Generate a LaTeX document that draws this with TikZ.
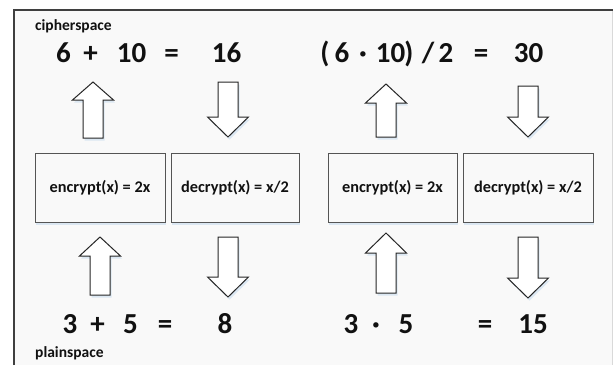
\documentclass[tikz,border=0pt]{standalone}
\usepackage{fontspec}
\setmainfont{Carlito}
\definecolor{txt}{HTML}{111111}
\definecolor{frame}{HTML}{3F3F3F}
\definecolor{bg}{HTML}{F9F9F9}
\definecolor{boxline}{HTML}{555555}
\definecolor{shadowc}{HTML}{CFE0F0}
\tikzset{
  big/.style={font=\fontsize{29}{29}\selectfont\bfseries, anchor=base, inner sep=0pt, text=txt},
  lbl/.style={font=\fontsize{15.5}{16}\selectfont\bfseries, anchor=base west, inner sep=0pt, text=txt},
  fbox/.style={draw=boxline, line width=1pt, fill=bg, inner sep=0pt, minimum height=69pt,
     font=\fontsize{16.3}{16}\selectfont\bfseries, text=txt},
  blockarrow/.style={draw=black!85, fill=white, line width=1pt, line join=miter},
  arrshadow/.style={fill=shadowc, opacity=0.7},
}
\newcommand\uparr[4]{%
  \fill[arrshadow,shift={(1.5,2.5)}] (#1,#2) -- (#1+20.5,#3) -- (#1+10,#3) -- (#1+10,#4) -- (#1-10,#4) -- (#1-10,#3) -- (#1-20.5,#3) -- cycle;
  \draw[blockarrow] (#1,#2) -- (#1+20.5,#3) -- (#1+10,#3) -- (#1+10,#4) -- (#1-10,#4) -- (#1-10,#3) -- (#1-20.5,#3) -- cycle;}
\newcommand\downarr[4]{%
  \fill[arrshadow,shift={(1.5,2.5)}] (#1-10,#2) -- (#1+10,#2) -- (#1+10,#3) -- (#1+20.5,#3) -- (#1,#4) -- (#1-20.5,#3) -- (#1-10,#3) -- cycle;
  \draw[blockarrow] (#1-10,#2) -- (#1+10,#2) -- (#1+10,#3) -- (#1+20.5,#3) -- (#1,#4) -- (#1-20.5,#3) -- (#1-10,#3) -- cycle;}
\begin{document}
\begin{tikzpicture}[x=1pt,y=-1pt]
\useasboundingbox (0,0) rectangle (613,365);
\fill[white] (0,0) rectangle (613,365);
\fill[bg] (14,10) rectangle (612,365);
\draw[black!15, line width=1pt] (612,10) -- (612,365);
\draw[frame, line width=1.5pt] (14,365) -- (14,10) -- (613,10);

% labels
\node[lbl] (cs) at (35,30) {cipherspace};
\node[lbl] (ps) at (35,357) {plainspace};

% boxes (with soft shadow)
\foreach \cx/\w in {100/130, 235/128, 392.5/129, 528/130}{
  \fill[arrshadow] (\cx-\w/2+1,187.5-34.5+3) rectangle (\cx+\w/2+1,187.5+34.5+2.5);
}
\node[fbox, minimum width=130pt] (enc1) at (100,187.5) {encrypt(x) = 2x};
\node[fbox, minimum width=128pt] (dec1) at (235,187.5) {decrypt(x) = x/2};
\node[fbox, minimum width=129pt] (enc2) at (392.5,187.5) {encrypt(x) = 2x};
\node[fbox, minimum width=130pt] (dec2) at (528,187.5) {decrypt(x) = x/2};

% block arrows
\uparr{93}{82}{100}{138}
\downarr{228}{82}{117}{137}
\uparr{386}{84}{103}{137}
\downarr{528}{86}{117}{137}
\uparr{100}{237}{256}{295}
\downarr{228}{237}{277}{297}
\uparr{386}{233}{253}{293}
\downarr{528}{237}{278}{298}

% top-left equation
\node[big] (a1) at (63.5,62) {6};
\node[big] (a2) at (90.5,62) {+};
\node[big] (a3) at (131.5,62) {10};
\node[big] (a4) at (171.5,62) {=};
\node[big] (a5) at (226.5,62) {16};
% top-right equation
\node[big] (b1) at (325,62) {(};
\node[big] (b2) at (342,62) {6};
\node[big] (b3) at (363,62) {·};
\node[big] (b4) at (390.5,62) {10};
\node[big] (b5) at (409,62) {)};
\node[big] (b6) at (428,62) {/};
\node[big] (b7) at (446,62) {2};
\node[big] (b8) at (481,62) {=};
\node[big] (b9) at (528.5,62) {30};
% bottom-left equation
\node[big] (c1) at (70,333) {3};
\node[big] (c2) at (97.5,333) {+};
\node[big] (c3) at (130.5,333) {5};
\node[big] (c4) at (165,333) {=};
\node[big] (c5) at (225,333) {8};
% bottom-right equation
\node[big] (d1) at (351,333) {3};
\node[big] (d2) at (376,333) {·};
\node[big] (d3) at (406,333) {5};
\node[big] (d4) at (485,333) {=};
\node[big] (d5) at (533,333) {15};
\end{tikzpicture}
\end{document}
